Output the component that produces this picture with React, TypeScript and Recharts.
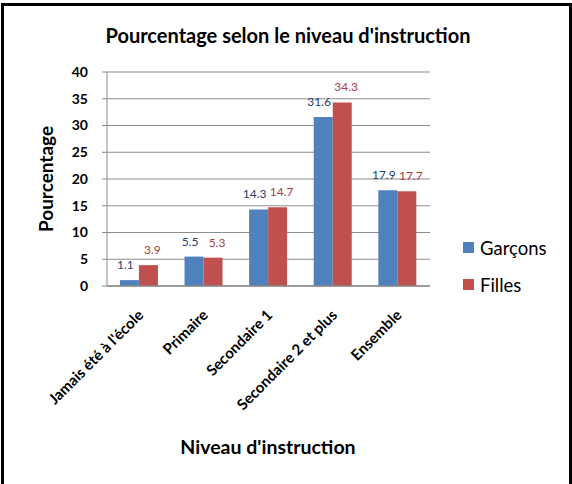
import React from 'react';
import { BarChart, Bar, XAxis, YAxis, CartesianGrid, LabelList } from 'recharts';

const categories = ["Jamais été à l'école", 'Primaire', 'Secondaire 1', 'Secondaire 2 et plus', 'Ensemble'];
const garcons = [1.1, 5.5, 14.3, 31.6, 17.9];
const filles = [3.9, 5.3, 14.7, 34.3, 17.7];
const yTicks = [0, 5, 10, 15, 20, 25, 30, 35, 40];
const seriesNames = ['Garçons', 'Filles'];

const data = categories.map((c, i) => ({ name: c, Garçons: garcons[i], Filles: filles[i] }));

const FONT = 'Lato, "Open Sans", sans-serif';
const BLUE = '#4F81BD';
const RED = '#C0504D';
const colors = [BLUE, RED];

const XTick = (props: any) => {
  const { x, y, payload } = props;
  const ax = x + 5;
  const ay = y + 22;
  return (
    <text
      x={ax}
      y={ay}
      textAnchor="end"
      transform={`rotate(-45, ${ax}, ${ay})`}
      fontFamily={FONT}
      fontWeight={700}
      fontSize={15}
      fill="#000"
    >
      {payload.value}
    </text>
  );
};

export default function App() {
  return (
    <div style={{ position: 'fixed', left: 0, top: 0, width: 572, height: 484, background: '#fff', overflow: 'hidden' }}>
      <div style={{ position: 'absolute', left: 1, top: 3, width: 571, height: 520, border: '3px solid #000', boxSizing: 'border-box' }} />
      <div style={{ position: 'absolute', left: 0, top: 0 }}>
        <BarChart width={572} height={484} data={data} margin={{ top: 72, right: 142, bottom: 0, left: 0 }} barCategoryGap="20%" barGap={0}>
          <CartesianGrid horizontal vertical={false} stroke="#8c8c8c" strokeWidth={1.2} />
          <XAxis dataKey="name" height={198} tickLine={false} axisLine={{ stroke: '#8c8c8c', strokeWidth: 1.5 }} tick={<XTick />} interval={0} />
          <YAxis
            width={107}
            domain={[0, 40]}
            ticks={yTicks}
            interval={0}
            tickSize={5}
            tickMargin={14}
            axisLine={{ stroke: '#8c8c8c' }}
            tickLine={{ stroke: '#8c8c8c' }}
            tick={{ fontFamily: FONT, fontWeight: 700, fontSize: 14, fill: '#000' }}
          />
          <Bar dataKey="Garçons" fill={BLUE} isAnimationActive={false}>
            <LabelList dataKey="Garçons" position="top" offset={11} dx={-4} fill="#1F3F6F" fontFamily={FONT} fontSize={12} />
          </Bar>
          <Bar dataKey="Filles" fill={RED} isAnimationActive={false}>
            <LabelList dataKey="Filles" position="top" offset={11} dx={4} fill="#A8403D" fontFamily={FONT} fontSize={12} />
          </Bar>
        </BarChart>
      </div>
      <div style={{ position: 'absolute', left: 463, top: 229, fontFamily: FONT, fontSize: 18.5, color: '#000' }}>
        {seriesNames.map((label, i) => (
          <div key={label} style={{ display: 'flex', alignItems: 'center', height: 37 }}>
            <div style={{ width: 11, height: 11, background: colors[i], marginRight: 6 }} />
            <span>{label}</span>
          </div>
        ))}
      </div>
      <div style={{ position: 'absolute', left: 288, top: 35, transform: 'translate(-50%, -50%)', whiteSpace: 'nowrap', fontFamily: FONT, fontWeight: 700, fontSize: 20, color: '#000' }}>
        Pourcentage selon le niveau d'instruction
      </div>
      <div style={{ position: 'absolute', left: 45, top: 179, transform: 'translate(-50%, -50%) rotate(-90deg)', whiteSpace: 'nowrap', fontFamily: FONT, fontWeight: 700, fontSize: 19, color: '#000' }}>
        Pourcentage
      </div>
      <div style={{ position: 'absolute', left: 268, top: 446, transform: 'translate(-50%, -50%)', whiteSpace: 'nowrap', fontFamily: FONT, fontWeight: 700, fontSize: 19.5, color: '#000' }}>
        Niveau d'instruction
      </div>
    </div>
  );
}
